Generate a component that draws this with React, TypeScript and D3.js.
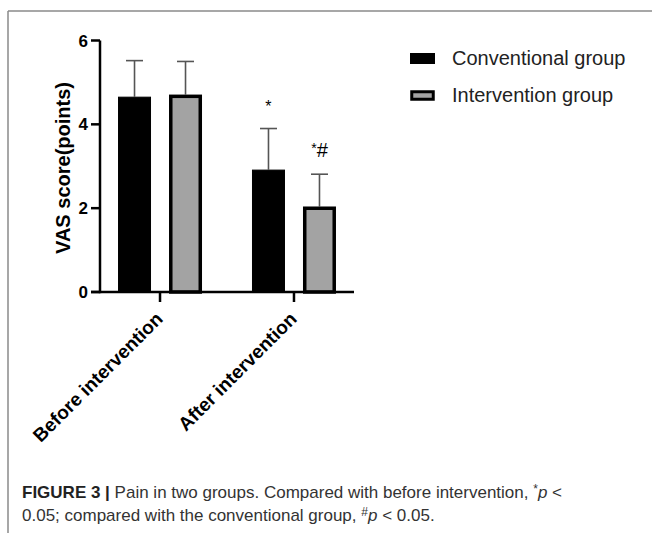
import React from "react";
import * as d3 from "d3";

const categories = ["Before intervention", "After intervention"];
const seriesNames = ["Conventional group", "Intervention group"];
const conventionalMeans = [4.66, 2.92];
const conventionalErr = [5.52, 3.9];
const interventionMeans = [4.71, 2.04];
const interventionErr = [5.5, 2.81];
const significance = [["", ""], ["*", "*#"]];
const yTicks = [0, 2, 4, 6];

const W = 652;
const H = 533;

export default function App() {
  const x = d3.scalePoint<string>().domain(categories).range([100, 354]).padding(0.448);
  const inner = d3.scaleBand<string>().domain(seriesNames).range([-42, 42]).paddingInner(0.353);
  const y = d3.scaleLinear().domain([0, 6]).range([292, 40.5]);
  const series = [
    { name: seriesNames[0], means: conventionalMeans, err: conventionalErr, fill: "#000", sw: 1 },
    { name: seriesNames[1], means: interventionMeans, err: interventionErr, fill: "#a3a3a3", sw: 3.5 },
  ];
  const font = "Liberation Sans, Arial, Helvetica, sans-serif";
  const bw = inner.bandwidth();
  return (
    <svg width={W} height={H} style={{ position: "absolute", left: 0, top: 0 }} fontFamily={font}>
      <rect x={0} y={0} width={W} height={H} fill="#fff" />
      {/* frame */}
      <line x1={8} y1={11} x2={W} y2={11} stroke="#8a8a8a" strokeWidth={1.5} />
      <line x1={8} y1={11} x2={8} y2={H} stroke="#8a8a8a" strokeWidth={1.5} />

      {/* bars */}
      {series.map((s, si) =>
        categories.map((c, ci) => {
          const cx = (x(c) as number) + (inner(s.name) as number);
          const top = y(s.means[ci]);
          const half = s.sw / 2;
          return (
            <g key={s.name + c}>
              <line x1={cx + bw / 2} x2={cx + bw / 2} y1={top} y2={y(s.err[ci])} stroke="#555" strokeWidth={1.6} />
              <line x1={cx + bw / 2 - 8.5} x2={cx + bw / 2 + 8.5} y1={y(s.err[ci])} y2={y(s.err[ci])} stroke="#555" strokeWidth={1.6} />
              <rect x={cx + half} y={top + half} width={bw - s.sw} height={y(0) - top - half} fill={s.fill} stroke="#000" strokeWidth={s.sw} />
              {significance[ci][si] && (
                <text x={cx + bw / 2} y={y(s.err[ci]) - 17} textAnchor="middle" fontSize={17} fill="#000">
                  {significance[ci][si] === "*#" ? (
                    <>
                      <tspan fontSize={14} dy={-4}>*</tspan>
                      <tspan dy={4} fontSize={20}>#</tspan>
                    </>
                  ) : (
                    <tspan fontSize={16}>*</tspan>
                  )}
                </text>
              )}
            </g>
          );
        })
      )}

      {/* y axis */}
      <line x1={100} x2={100} y1={y(6)} y2={y(0) + 1.2} stroke="#000" strokeWidth={2.5} />
      {yTicks.map((t) => (
        <g key={t}>
          <line x1={91} x2={100} y1={y(t)} y2={y(t)} stroke="#000" strokeWidth={2.5} />
          <text x={88} y={y(t)} dy="0.36em" textAnchor="end" fontWeight="bold" fontSize={17} fill="#000">
            {t}
          </text>
        </g>
      ))}
      <text
        transform={`translate(70,${168}) rotate(-90)`}
        textAnchor="middle"
        fontWeight="bold"
        fontSize={20}
        fill="#000"
      >
        VAS score(points)
      </text>

      {/* x axis */}
      <line x1={91} x2={354} y1={y(0)} y2={y(0)} stroke="#000" strokeWidth={2.5} />
      {categories.map((c) => (
        <g key={c}>
          <line x1={x(c)} x2={x(c)} y1={y(0)} y2={y(0) + 10} stroke="#000" strokeWidth={2.5} />
          <text
            transform={`translate(${(x(c) as number) + 4},${y(0) + 28}) rotate(-45)`}
            textAnchor="end"
            fontWeight="bold"
            fontSize={19}
            fill="#000"
          >
            {c}
          </text>
        </g>
      ))}

      {/* legend */}
      {series.map((s, i) => (
        <g key={s.name} transform={`translate(410,${53 + i * 37})`}>
          <rect x={s.sw / 2} y={s.sw / 2} width={25 - s.sw} height={11 - s.sw} fill={s.fill} stroke="#000" strokeWidth={s.sw === 1 ? 1 : 3} />
          <text x={42} y={12} fontSize={20} fill="#222">
            {s.name}
          </text>
        </g>
      ))}

      {/* caption */}
      <text x={22} y={498} fontSize={17} fill="#333">
        <tspan fontWeight="bold" fill="#222">FIGURE 3 | </tspan>
        <tspan>Pain in two groups. Compared with before intervention, </tspan>
        <tspan fontSize={12} dy={-5}>*</tspan>
        <tspan fontStyle="italic" dy={5}>p</tspan>
        <tspan> &lt;</tspan>
      </text>
      <text x={22} y={521} fontSize={17} fill="#333">
        <tspan>0.05; compared with the conventional group, </tspan>
        <tspan fontSize={12} dy={-5}>#</tspan>
        <tspan fontStyle="italic" dy={5}>p</tspan>
        <tspan> &lt; 0.05.</tspan>
      </text>
    </svg>
  );
}
